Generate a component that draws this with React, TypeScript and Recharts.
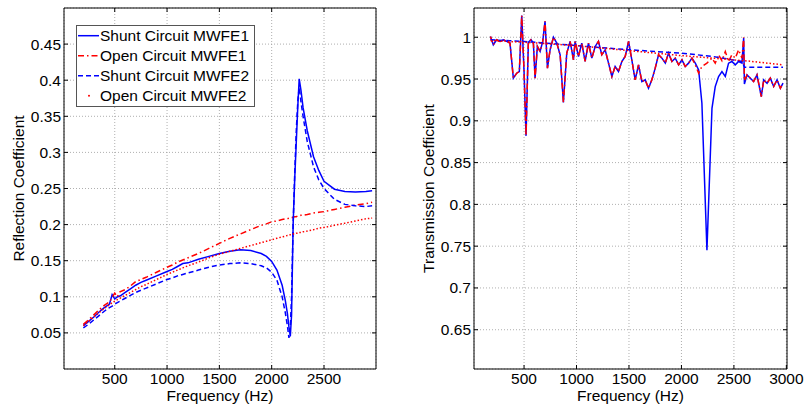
import React from 'react';
import { LineChart, Line, XAxis, YAxis, CartesianGrid, ReferenceArea, Legend, Label } from 'recharts';

const FONT = '"Liberation Sans", Arial, Helvetica, sans-serif';

// ---------- Left panel: Reflection coefficient ----------
const L_FREQ = [200, 250, 300, 350, 400, 450, 475, 500, 525, 550, 600, 650, 700, 750, 800, 900, 1000, 1050, 1100, 1150, 1200, 1300, 1400, 1500, 1600, 1700, 1800, 1900, 1950, 2000, 2050, 2100, 2130, 2150, 2165, 2178, 2190, 2205, 2220, 2235, 2250, 2263, 2280, 2300, 2340, 2400, 2450, 2500, 2600, 2700, 2800, 2900, 2960];
const L_SHUNT1 = [0.060, 0.066, 0.072, 0.079, 0.085, 0.090, 0.103, 0.097, 0.100, 0.101, 0.106, 0.111, 0.116, 0.120, 0.123, 0.129, 0.135, 0.138, 0.142, 0.146, 0.147, 0.152, 0.156, 0.160, 0.163, 0.165, 0.164, 0.160, 0.156, 0.149, 0.137, 0.116, 0.095, 0.077, 0.058, 0.045, 0.075, 0.200, 0.263, 0.314, 0.365, 0.402, 0.386, 0.362, 0.330, 0.294, 0.275, 0.260, 0.249, 0.246, 0.245, 0.246, 0.247];
const L_OPEN1 = [0.062, 0.068, 0.075, 0.082, 0.088, 0.093, 0.099, 0.105, 0.100, 0.107, 0.110, 0.115, 0.121, 0.124, 0.127, 0.134, 0.141, 0.144, 0.148, 0.151, 0.154, 0.160, 0.167, 0.174, 0.181, 0.187, 0.193, 0.199, 0.201, 0.204, 0.205, 0.207, 0.208, 0.208, 0.209, 0.209, 0.210, 0.210, 0.211, 0.211, 0.212, 0.212, 0.213, 0.213, 0.214, 0.216, 0.217, 0.218, 0.221, 0.224, 0.227, 0.229, 0.231];
const L_SHUNT2 = [0.057, 0.062, 0.068, 0.074, 0.080, 0.085, 0.087, 0.090, 0.092, 0.094, 0.098, 0.102, 0.106, 0.109, 0.112, 0.118, 0.124, 0.126, 0.129, 0.131, 0.133, 0.137, 0.141, 0.144, 0.146, 0.147, 0.146, 0.143, 0.140, 0.134, 0.123, 0.100, 0.078, 0.060, 0.043, 0.058, 0.100, 0.200, 0.270, 0.330, 0.372, 0.390, 0.370, 0.350, 0.315, 0.280, 0.262, 0.250, 0.235, 0.228, 0.226, 0.225, 0.226];
const L_OPEN2 = [0.060, 0.066, 0.072, 0.078, 0.084, 0.089, 0.092, 0.094, 0.096, 0.098, 0.102, 0.106, 0.110, 0.114, 0.117, 0.124, 0.131, 0.134, 0.137, 0.140, 0.143, 0.148, 0.154, 0.159, 0.163, 0.167, 0.171, 0.175, 0.177, 0.179, 0.181, 0.183, 0.184, 0.185, 0.185, 0.186, 0.186, 0.187, 0.187, 0.188, 0.188, 0.189, 0.189, 0.190, 0.191, 0.193, 0.195, 0.196, 0.199, 0.202, 0.205, 0.208, 0.209];

const L_XTICKS = [500, 1000, 1500, 2000, 2500];
const L_YTICKS = [0.05, 0.1, 0.15, 0.2, 0.25, 0.3, 0.35, 0.4, 0.45];

// ---------- Right panel: Transmission coefficient ----------
const R_FREQ = [180, 207, 239, 271, 303, 335, 366, 398, 430, 455, 478, 500, 519, 541, 566, 589, 605, 627, 653, 678, 700, 723, 748, 780, 812, 844, 875, 907, 939, 971, 987, 1019, 1050, 1082, 1114, 1146, 1178, 1209, 1241, 1273, 1305, 1337, 1368, 1400, 1432, 1464, 1496, 1527, 1559, 1591, 1623, 1655, 1686, 1718, 1750, 1782, 1814, 1846, 1877, 1909, 1941, 1973, 2005, 2036, 2068, 2100, 2132, 2164, 2195, 2243, 2291, 2322, 2354, 2386, 2418, 2449, 2481, 2513, 2545, 2577, 2593, 2600, 2625, 2657, 2688, 2720, 2761, 2784, 2816, 2847, 2879, 2911, 2943, 2968];
const R_SHUNT1 = [1.001, 0.991, 0.997, 0.995, 0.997, 0.995, 0.993, 0.951, 0.957, 0.959, 1.026, 0.959, 0.882, 0.994, 0.997, 0.993, 0.951, 0.989, 0.983, 0.995, 1.019, 0.963, 0.985, 1.000, 0.993, 0.979, 0.922, 0.981, 0.995, 0.973, 0.995, 0.977, 0.993, 0.971, 0.993, 0.975, 0.989, 0.995, 0.979, 0.985, 0.969, 0.953, 0.965, 0.959, 0.971, 0.977, 0.995, 0.973, 0.949, 0.967, 0.947, 0.949, 0.939, 0.949, 0.963, 0.979, 0.975, 0.969, 0.981, 0.971, 0.975, 0.967, 0.973, 0.965, 0.969, 0.975, 0.969, 0.961, 0.921, 0.745, 0.915, 0.941, 0.953, 0.959, 0.953, 0.969, 0.971, 0.967, 0.971, 0.969, 0.999, 0.944, 0.955, 0.951, 0.947, 0.955, 0.929, 0.949, 0.945, 0.951, 0.941, 0.949, 0.939, 0.945];
const R_OPEN1 = [1.001, 0.991, 0.997, 0.995, 0.997, 0.995, 0.993, 0.951, 0.957, 0.959, 1.026, 0.959, 0.882, 0.994, 0.997, 0.993, 0.951, 0.989, 0.983, 0.995, 1.019, 0.963, 0.985, 1.000, 0.993, 0.979, 0.922, 0.981, 0.995, 0.973, 0.995, 0.977, 0.993, 0.971, 0.993, 0.975, 0.989, 0.995, 0.979, 0.985, 0.969, 0.953, 0.965, 0.959, 0.971, 0.977, 0.995, 0.973, 0.949, 0.967, 0.947, 0.949, 0.939, 0.949, 0.963, 0.979, 0.975, 0.969, 0.981, 0.971, 0.975, 0.967, 0.973, 0.965, 0.969, 0.975, 0.967, 0.957, 0.965, 0.969, 0.975, 0.969, 0.979, 0.972, 0.983, 0.971, 0.979, 0.975, 0.985, 0.975, 1.000, 0.948, 0.955, 0.951, 0.947, 0.955, 0.929, 0.949, 0.945, 0.951, 0.941, 0.949, 0.939, 0.945];
const R_SMOOTH_FREQ = [180, 500, 1000, 1500, 2000, 2300, 2580, 2600, 2968];
const R_SHUNT2 = [0.997, 0.995, 0.990, 0.985, 0.981, 0.977, 0.971, 0.964, 0.964];
const R_OPEN2 = [0.996, 0.994, 0.990, 0.984, 0.978, 0.975, 0.972, 0.972, 0.967];

const R_XTICKS = [500, 1000, 1500, 2000, 2500, 3000];
const R_YTICKS = [0.65, 0.7, 0.75, 0.8, 0.85, 0.9, 0.95, 1];

const SERIES = [
  { key: 's1', name: 'Shunt Circuit MWFE1', color: '#0000ff', dash: undefined as string | undefined },
  { key: 'o1', name: 'Open Circuit MWFE1', color: '#ff0000', dash: '6 3 1.5 3' },
  { key: 's2', name: 'Shunt Circuit MWFE2', color: '#0000ff', dash: '5 3' },
  { key: 'o2', name: 'Open Circuit MWFE2', color: '#ff0000', dash: '1.5 2' },
];

const leftData = L_FREQ.map((f, i) => ({ f, s1: L_SHUNT1[i], o1: L_OPEN1[i], s2: L_SHUNT2[i], o2: L_OPEN2[i] }));
const rightData = R_FREQ.map((f, i) => ({ f, s1: R_SHUNT1[i], o1: R_OPEN1[i] }));
const rightSmooth = R_SMOOTH_FREQ.map((f, i) => ({ f, s2: R_SHUNT2[i], o2: R_OPEN2[i] }));

const PT = 8;
const PB = 369;
const TICK = 4;
const FS = 15.5;

const fmt = (v: number) => String(Number(v.toFixed(2)));

const makeXTick = () => (props: any) => {
  const { x, payload } = props;
  return (
    <g>
      <line x1={x} x2={x} y1={PB} y2={PB - TICK} stroke="#000" strokeWidth={1} />
      <line x1={x} x2={x} y1={PT} y2={PT + TICK} stroke="#000" strokeWidth={1} />
      <text x={x} y={PB + 15} textAnchor="middle" fontSize={FS} fontFamily={FONT} fill="#000">{payload.value}</text>
    </g>
  );
};

const makeYTick = (pl: number, pr: number) => (props: any) => {
  const { y, payload } = props;
  return (
    <g>
      <line x1={pl} x2={pl + TICK} y1={y} y2={y} stroke="#000" strokeWidth={1} />
      <line x1={pr - TICK} x2={pr} y1={y} y2={y} stroke="#000" strokeWidth={1} />
      <text x={pl - 3} y={y + 5.5} textAnchor="end" fontSize={FS} fontFamily={FONT} fill="#000">{fmt(payload.value)}</text>
    </g>
  );
};

const xLabel = (props: any) => {
  const vb = props.viewBox || {};
  const cx = (vb.x || 0) + (vb.width || 0) / 2;
  return (
    <text x={cx} y={PB + 32} textAnchor="middle" fontSize={FS} fontFamily={FONT} fill="#000">Frequency (Hz)</text>
  );
};

const yLabel = (text: string, bx: number) => (props: any) => {
  const cy = (PT + PB) / 2;
  return (
    <text x={bx} y={cy} textAnchor="middle" fontSize={FS} fontFamily={FONT} fill="#000" transform={`rotate(-90 ${bx} ${cy})`}>{text}</text>
  );
};

const LegendBox = () => (
  <svg width={179} height={82} style={{ display: 'block' }}>
    <rect x={0.5} y={0.5} width={178} height={81} fill="#fff" stroke="#555" strokeWidth={1} />
    {SERIES.map((s, i) => {
      const cy = 10.7 + 20 * i;
      return (
        <g key={s.key}>
          {s.key === 'o2' ? (
            <circle cx={13} cy={cy} r={1} fill={s.color} />
          ) : (
            <line x1={2} x2={23} y1={cy} y2={cy} stroke={s.color} strokeWidth={1.5} strokeDasharray={s.dash} />
          )}
          <text x={24} y={cy + 5.5} fontSize={FS} fontFamily={FONT} fill="#000">{s.name}</text>
        </g>
      );
    })}
  </svg>
);

const L_XDOM: [number, number] = [15, 2997];
const L_YDOM: [number, number] = [0, 0.5];
const R_XDOM: [number, number] = [23, 3006];
const R_YDOM: [number, number] = [0.603, 1.035];

export default function App() {
  return (
    <div style={{ position: 'absolute', left: 0, top: 0, width: 806, height: 408, background: '#fff', fontFamily: FONT }}>
      <div style={{ position: 'absolute', left: 0, top: 0 }}>
        <LineChart width={400} height={408} data={leftData} margin={{ top: PT, right: 24, bottom: 0, left: 0 }}>
          <CartesianGrid stroke="#9a9a9a" strokeDasharray="1 2" strokeWidth={0.8} />
          <XAxis dataKey="f" type="number" domain={L_XDOM} ticks={L_XTICKS} allowDataOverflow height={39} axisLine={false} tickLine={false} tick={makeXTick()} interval={0}>
            <Label content={xLabel} />
          </XAxis>
          <YAxis type="number" domain={L_YDOM} ticks={L_YTICKS} allowDataOverflow width={64} axisLine={false} tickLine={false} tick={makeYTick(64, 376)} interval={0}>
            <Label content={yLabel('Reflection Coefficient', 24)} />
          </YAxis>
          <ReferenceArea x1={L_XDOM[0]} x2={L_XDOM[1]} y1={L_YDOM[0]} y2={L_YDOM[1]} fill="none" fillOpacity={0} stroke="#000" strokeWidth={1} />
          {SERIES.map((s) => (
            <Line key={s.key} dataKey={s.key} name={s.name} type="linear" stroke={s.color} strokeWidth={1.5} strokeDasharray={s.dash} dot={false} isAnimationActive={false} />
          ))}
          <Legend layout="vertical" align="center" verticalAlign="middle" wrapperStyle={{ left: 76, top: 25, width: 179, height: 82 }} content={() => <LegendBox />} />
        </LineChart>
      </div>
      <div style={{ position: 'absolute', left: 400, top: 0 }}>
        <LineChart width={406} height={408} data={rightData} margin={{ top: PT, right: 19, bottom: 0, left: 0 }}>
          <CartesianGrid stroke="#9a9a9a" strokeDasharray="1 2" strokeWidth={0.8} />
          <XAxis dataKey="f" type="number" domain={R_XDOM} ticks={R_XTICKS} allowDataOverflow height={39} axisLine={false} tickLine={false} tick={makeXTick()} interval={0}>
            <Label content={xLabel} />
          </XAxis>
          <YAxis type="number" domain={R_YDOM} ticks={R_YTICKS} allowDataOverflow width={74} axisLine={false} tickLine={false} tick={makeYTick(74, 387)} interval={0}>
            <Label content={yLabel('Transmission Coefficient', 34)} />
          </YAxis>
          <ReferenceArea x1={R_XDOM[0]} x2={R_XDOM[1]} y1={R_YDOM[0]} y2={R_YDOM[1]} fill="none" fillOpacity={0} stroke="#000" strokeWidth={1} />
          <Line dataKey="s1" name={SERIES[0].name} type="linear" stroke={SERIES[0].color} strokeWidth={1.5} dot={false} isAnimationActive={false} />
          <Line dataKey="o1" name={SERIES[1].name} type="linear" stroke={SERIES[1].color} strokeWidth={1.5} strokeDasharray={SERIES[1].dash} dot={false} isAnimationActive={false} />
          <Line data={rightSmooth} dataKey="s2" name={SERIES[2].name} type="linear" stroke={SERIES[2].color} strokeWidth={1.5} strokeDasharray={SERIES[2].dash} dot={false} isAnimationActive={false} />
          <Line data={rightSmooth} dataKey="o2" name={SERIES[3].name} type="linear" stroke={SERIES[3].color} strokeWidth={1.5} strokeDasharray={SERIES[3].dash} dot={false} isAnimationActive={false} />
        </LineChart>
      </div>
    </div>
  );
}
